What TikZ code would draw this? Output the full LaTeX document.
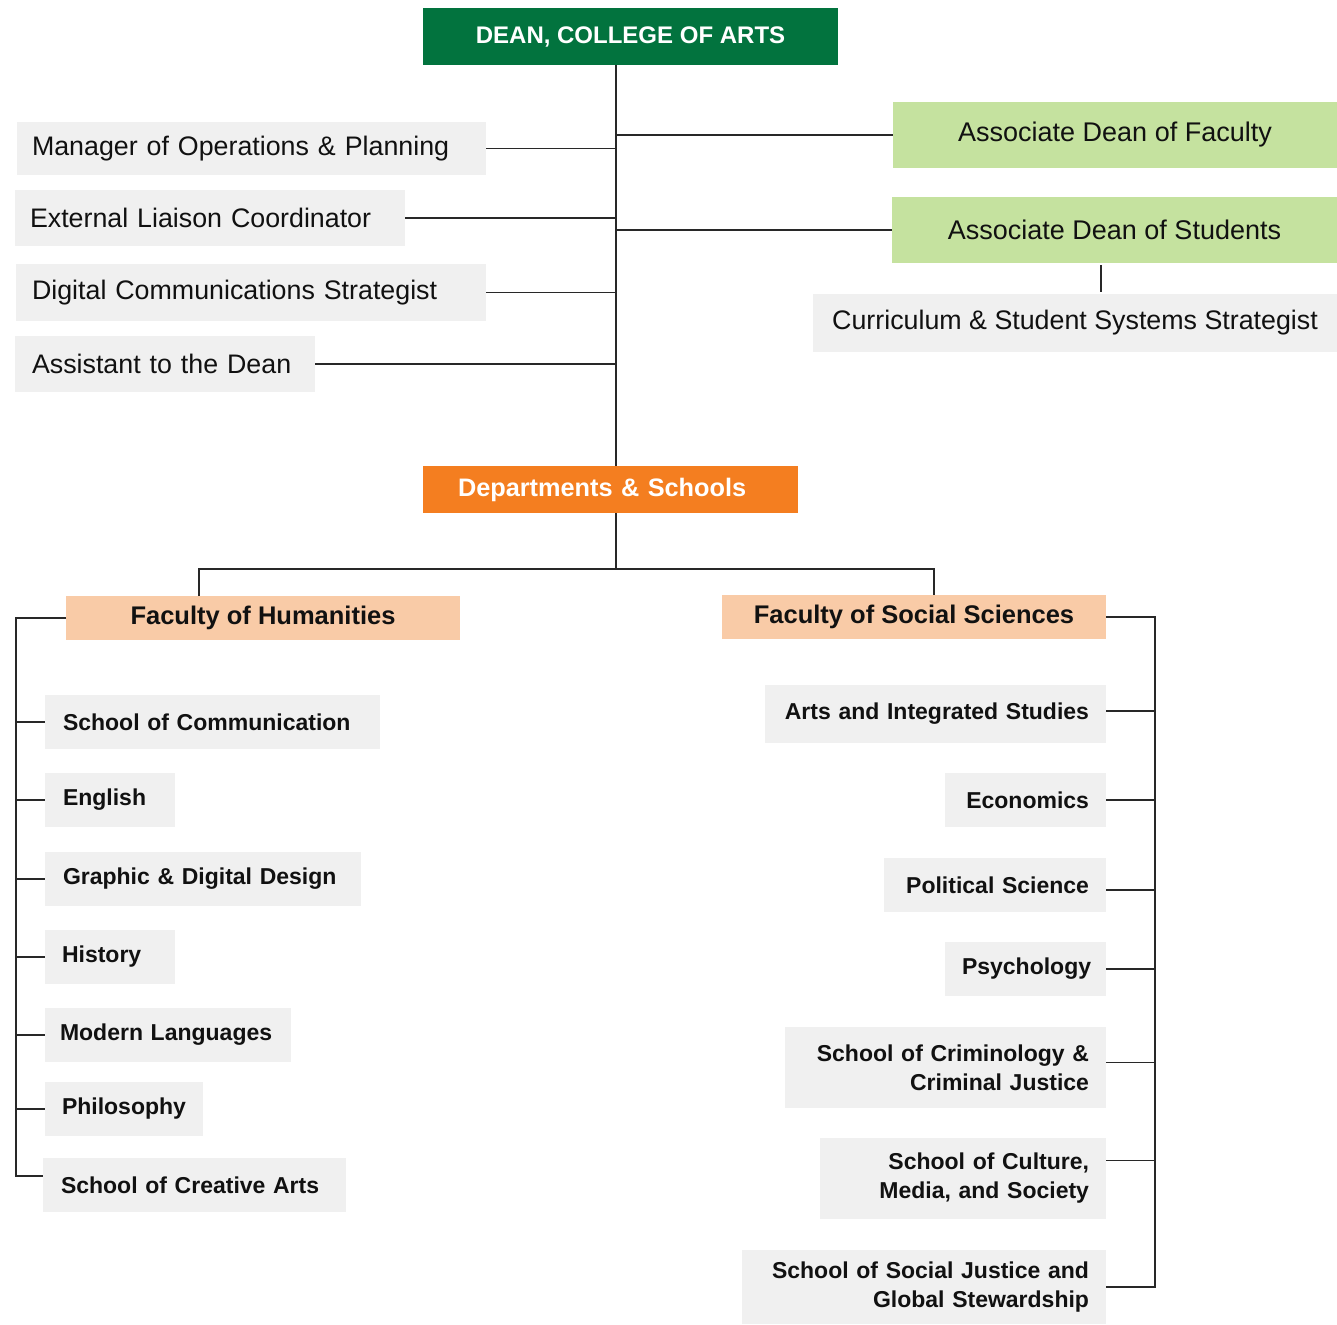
\documentclass[tikz,border=0pt]{standalone}
\usepackage{fontspec}
\setmainfont{Liberation Sans}
\hyphenpenalty=10000
\exhyphenpenalty=10000
\definecolor{deangreen}{RGB}{2,115,62}
\definecolor{assocgreen}{RGB}{197,226,159}
\definecolor{deptorange}{RGB}{244,126,32}
\definecolor{facpeach}{RGB}{249,203,167}
\definecolor{boxgray}{RGB}{240,240,240}
\definecolor{linegray}{RGB}{40,40,40}
\definecolor{txt}{RGB}{17,17,17}
\begin{document}
\begin{tikzpicture}[x=1pt,y=-1pt,
  base/.style={rectangle, anchor=north west, inner ysep=0pt, outer sep=0pt, text=txt},
  staff/.style={base, fill=boxgray, align=left, font=\fontsize{26.8}{31}\selectfont},
  assoc/.style={base, fill=assocgreen, align=center, font=\fontsize{27}{31}\selectfont},
  deanbox/.style={base, fill=deangreen, text=white, align=center, font=\fontsize{24}{28}\selectfont\bfseries},
  deptbox/.style={base, fill=deptorange, text=white, align=left, font=\fontsize{25.3}{29}\selectfont\bfseries},
  facbox/.style={base, fill=facpeach, align=center, font=\fontsize{25.5}{29}\selectfont\bfseries},
  unitl/.style={base, fill=boxgray, align=left, font=\fontsize{23}{29}\selectfont\bfseries},
  unitr/.style={base, fill=boxgray, align=right, inner xsep=17pt, font=\fontsize{23}{29}\selectfont\bfseries},
  conn/.style={draw=linegray, line width=1.6pt}]
\useasboundingbox (0,0) rectangle (1337,1324);

% top level
\node[deanbox, minimum width=415pt, minimum height=57pt] (dean) at (423,8) {DEAN, COLLEGE OF ARTS};

% staff (left)
\node[staff, minimum width=469pt, minimum height=53pt, inner xsep=15pt, text width=439pt] (mgr) at (17,122) {Manager of Operations \& Planning};
\node[staff, minimum width=390pt, minimum height=56pt, inner xsep=15pt, text width=360pt] (ext) at (15,190) {External Liaison Coordinator};
\node[staff, minimum width=470pt, minimum height=57pt, inner xsep=16pt, text width=438pt] (dig) at (16,264) {Digital Communications Strategist};
\node[staff, minimum width=300pt, minimum height=56pt, inner xsep=17pt, text width=266pt] (asst) at (15,336) {Assistant to the Dean};

% associates (right)
\node[assoc, minimum width=444pt, minimum height=66pt] (adf) at (893,102) {Associate Dean of Faculty};
\node[assoc, minimum width=445pt, minimum height=66pt] (ads) at (892,197) {Associate Dean of Students};
\node[staff, align=center, minimum width=524pt, minimum height=58pt] (css) at (813,294) {Curriculum \& Student Systems Strategist};

% departments
\node[deptbox, minimum width=375pt, minimum height=47pt, inner xsep=35pt, text width=305pt] (dept) at (423,466) {Departments \& Schools};

% faculties
\node[facbox, minimum width=394pt, minimum height=44pt] (fh) at (66,596) {Faculty of Humanities};
\node[facbox, minimum width=384pt, minimum height=44pt] (fss) at (722,595) {Faculty of Social Sciences};

% humanities units
\node[unitl, minimum width=335pt, minimum height=54pt, inner xsep=18pt, text width=299pt] (sc) at (45,695) {School of Communication};
\node[unitl, minimum width=130pt, minimum height=54pt, inner xsep=18pt, text width=94pt] (eng) at (45,773) {English};
\node[unitl, minimum width=316pt, minimum height=54pt, inner xsep=18pt, text width=280pt] (gdd) at (45,852) {Graphic \& Digital Design};
\node[unitl, minimum width=130pt, minimum height=54pt, inner xsep=17pt, text width=96pt] (hist) at (45,930) {History};
\node[unitl, minimum width=246pt, minimum height=54pt, inner xsep=15pt, text width=216pt] (ml) at (45,1008) {Modern Languages};
\node[unitl, minimum width=158pt, minimum height=54pt, inner xsep=17pt, text width=124pt] (phil) at (45,1082) {Philosophy};
\node[unitl, minimum width=303pt, minimum height=54pt, inner xsep=18pt, text width=267pt] (sca) at (43,1158) {School of Creative Arts};

% social sciences units
\node[unitr, minimum width=341pt, minimum height=58pt, text width=307pt] (ais) at (765,685) {Arts and Integrated Studies};
\node[unitr, minimum width=161pt, minimum height=54pt, text width=127pt] (eco) at (945,773) {Economics};
\node[unitr, minimum width=222pt, minimum height=54pt, text width=188pt] (pol) at (884,858) {Political Science};
\node[unitr, minimum width=161pt, minimum height=54pt, text width=127pt] (psy) at (945,942) {Psychology};
\node[unitr, minimum width=321pt, minimum height=81pt, text width=287pt] (crim) at (785,1027) {School of Criminology \&\\Criminal Justice};
\node[unitr, minimum width=286pt, minimum height=81pt, text width=252pt] (cult) at (820,1138) {School of Culture,\\Media, and Society};
\node[unitr, minimum width=364pt, minimum height=74pt, text width=330pt] (sjgs) at (742,1250) {School of Social Justice and\\Global Stewardship};

% guide coordinates
\coordinate (sp) at (616,0);
\coordinate (cx) at (1101,0);
\coordinate (br) at (616,569);
\coordinate (hx) at (199,0);
\coordinate (fx) at (934,0);
\coordinate (lx) at (16,0);
\coordinate (rx) at (1155,0);
\coordinate (adsB) at ([yshift=-2pt]ads.south);
\coordinate (cssT) at ([yshift=2pt]css.north);
\coordinate (scaT) at ([yshift=9pt]sca.west);
\coordinate (aisT) at ([yshift=3pt]ais.east);
\coordinate (polT) at ([yshift=-5pt]pol.east);
\coordinate (crimT) at ([yshift=5pt]crim.east);
\coordinate (cultT) at ([yshift=18pt]cult.east);

% spine
\draw[conn] (dean.south -| sp) -- (dept.north -| sp);
\draw[conn] (mgr.east) -- (mgr.east -| sp);
\draw[conn] (ext.east) -- (ext.east -| sp);
\draw[conn] (dig.east) -- (dig.east -| sp);
\draw[conn] (asst.east) -- (asst.east -| sp);
\draw[conn] (sp |- adf.west) -- (adf.west);
\draw[conn] (sp |- ads.west) -- (ads.west);
\draw[conn] (adsB -| cx) -- (cssT -| cx);

% branch to faculties
\draw[conn] (dept.south -| br) -- (br);
\draw[conn] (fh.north -| hx) -- (hx |- br) -- (fx |- br) -- (fss.north -| fx);

% humanities bracket
\draw[conn] (fh.west) -- (lx |- fh.west) -- (lx |- scaT) -- (scaT);
\foreach \n in {sc,eng,gdd,hist,ml,phil}{
  \draw[conn] (lx |- \n.west) -- (\n.west);
}

% social sciences bracket
\draw[conn] (fss.east) -- (rx |- fss.east) -- (rx |- sjgs.east) -- (sjgs.east);
\draw[conn] (rx |- aisT) -- (aisT);
\draw[conn] (rx |- eco.east) -- (eco.east);
\draw[conn] (rx |- polT) -- (polT);
\draw[conn] (rx |- psy.east) -- (psy.east);
\draw[conn] (rx |- crimT) -- (crimT);
\draw[conn] (rx |- cultT) -- (cultT);
\end{tikzpicture}
\end{document}
